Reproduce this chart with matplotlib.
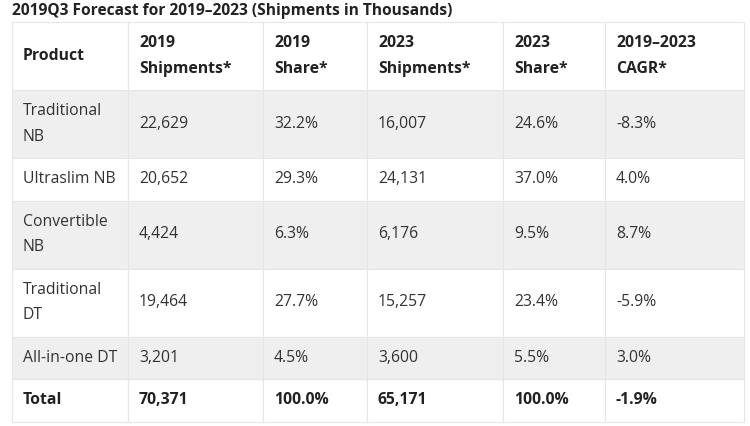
import matplotlib.pyplot as plt
from matplotlib.patches import Rectangle

# table content
title = "2019Q3 Forecast for 2019\u20132023 (Shipments in Thousands)"
headers = ["Product", "2019\nShipments*", "2019\nShare*", "2023\nShipments*", "2023\nShare*", "2019\u20132023\nCAGR*"]
products = ["Traditional\nNB", "Ultraslim NB", "Convertible\nNB", "Traditional\nDT", "All-in-one DT", "Total"]
ship_2019 = ["22,629", "20,652", "4,424", "19,464", "3,201", "70,371"]
share_2019 = ["32.2%", "29.3%", "6.3%", "27.7%", "4.5%", "100.0%"]
ship_2023 = ["16,007", "24,131", "6,176", "15,257", "3,600", "65,171"]
share_2023 = ["24.6%", "37.0%", "9.5%", "23.4%", "5.5%", "100.0%"]
cagr = ["-8.3%", "4.0%", "8.7%", "-5.9%", "3.0%", "-1.9%"]

plt.rcParams['font.family'] = ['Open Sans', 'DejaVu Sans']

fig = plt.figure(figsize=(7.5, 4.26), dpi=100)
ax = fig.add_axes([0, 0, 1, 1])
ax.set_xlim(0, 750)
ax.set_ylim(426, 0)
ax.axis('off')

col_edges = [12, 128, 263, 367, 503, 605, 744]
pad = 11
fill = '#efefef'
line = '#e6e6e6'
txt = '#333333'

ax.text(12, 11, title, fontsize=11.2, fontweight='bold', color='#222222', va='center', ha='left')

rows = [headers] + [list(r) for r in zip(products, ship_2019, share_2019, ship_2023, share_2023, cagr)]

y = 22
for i, row in enumerate(rows):
    nlines = max(c.count('\n') + 1 for c in row)
    h = 68 if nlines > 1 else 42.5
    bold = i == 0 or i == len(rows) - 1
    bg = fill if i % 2 == 1 else 'white'
    for j, val in enumerate(row):
        x0, x1 = col_edges[j], col_edges[j + 1]
        ax.add_patch(Rectangle((x0, y), x1 - x0, h, facecolor=bg, edgecolor=line, lw=0.8))
        ax.text(x0 + pad, y + h / 2, val, fontsize=11.3, color='#222222' if bold else txt,
                fontweight='bold' if bold else 'normal', va='center', ha='left',
                linespacing=1.8)
    y += h

fig.savefig('out.png', dpi=100, facecolor='white')
